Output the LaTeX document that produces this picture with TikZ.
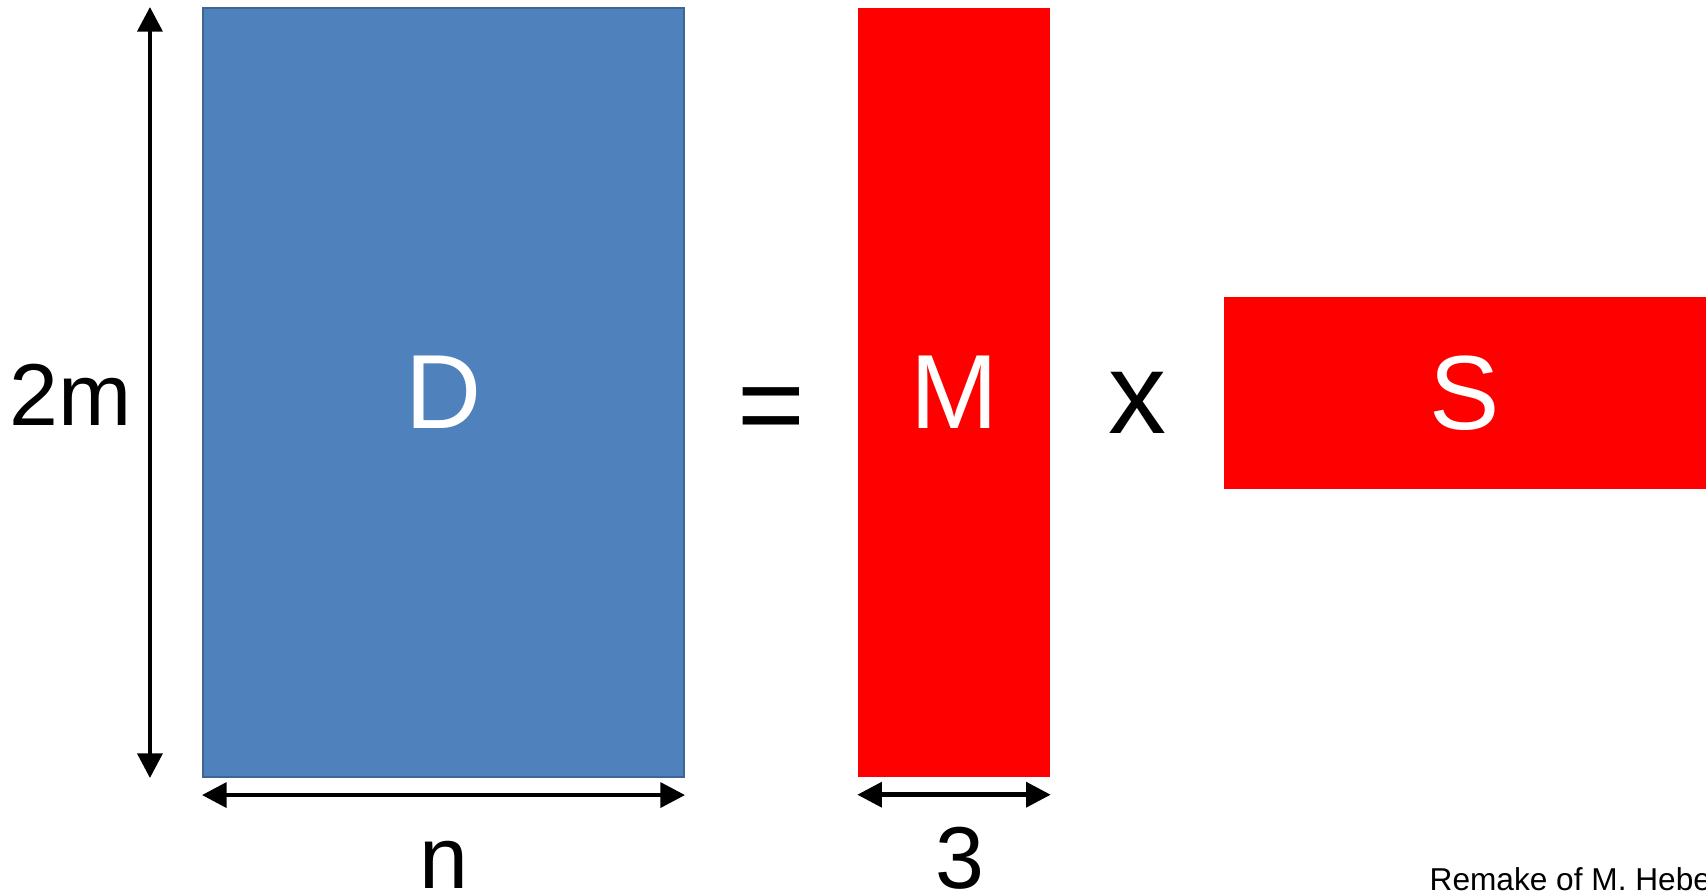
\documentclass[tikz,border=0pt]{standalone}
\usepackage{fontspec}
\setmainfont{Liberation Sans}
\usetikzlibrary{arrows.meta, positioning, calc}

\definecolor{dblue}{HTML}{4F81BD}
\definecolor{dblueborder}{HTML}{3F6594}
\definecolor{mred}{HTML}{FF0000}

\begin{document}
\begin{tikzpicture}[
        matblock/.style={
            rectangle, inner sep=0pt, text=white,
            font=\fontsize{30}{36}\selectfont
        },
        dim/.style={
            draw=black, line width=1.3pt,
            {Triangle[length=7pt, width=7pt]}-{Triangle[length=7pt, width=7pt]}
        },
        dimlabel/.style={
            font=\fontsize{25}{30}\selectfont, anchor=base, inner sep=0pt
        },
        op/.style={
            font=\fontsize{33}{40}\selectfont, inner sep=0pt
        }
    ]
        \useasboundingbox (0,0) rectangle (17.06,8.94);

        % ----------------------------------------------------
        % Matrices D = M x S
        % ----------------------------------------------------
        \node[matblock, fill=dblue, draw=dblueborder, line width=0.6pt, minimum width=4.81cm, minimum height=7.69cm] (D) at (4.435, 5.015) {D};
        \node[matblock, fill=mred, minimum width=1.92cm, minimum height=7.69cm] (M) at (9.54, 5.015) {M};
        \node[matblock, fill=mred, minimum width=4.82cm, minimum height=1.92cm] (S) at (14.65, 5.01) {S};

        \node[op] (eq) at (7.71, 4.78) {=};
        \node[op] (times) at (11.37, 4.91) {x};

        % ----------------------------------------------------
        % Dimensions
        % ----------------------------------------------------
        \coordinate (vtop) at ($(D.north west)+(-0.52,0)$);
        \coordinate (vbot) at ($(D.south west)+(-0.52,0)$);
        \draw[dim] (vtop) -- (vbot);
        \node[font=\fontsize{25}{30}\selectfont, inner sep=0pt] (rows) at (0.71, 4.99) {2m};

        \coordinate (dleft) at ($(D.south west)+(0,-0.17)$);
        \coordinate (dright) at ($(D.south east)+(0,-0.17)$);
        \draw[dim] (dleft) -- (dright);
        \node[dimlabel] (cols) at (4.44, 0.06) {n};

        \coordinate (mleft) at ($(M.south west)+(0,-0.17)$);
        \coordinate (mright) at ($(M.south east)+(0,-0.17)$);
        \draw[dim] (mleft) -- (mright);
        \node[dimlabel] (rank) at (9.60, 0.06) {3};

        % credit
        \node[font=\fontsize{9}{11}\selectfont, anchor=base west, inner sep=0pt] (credit) at (14.29, 0.04) {Remake of M. Hebe};

    \end{tikzpicture}
\end{document}
